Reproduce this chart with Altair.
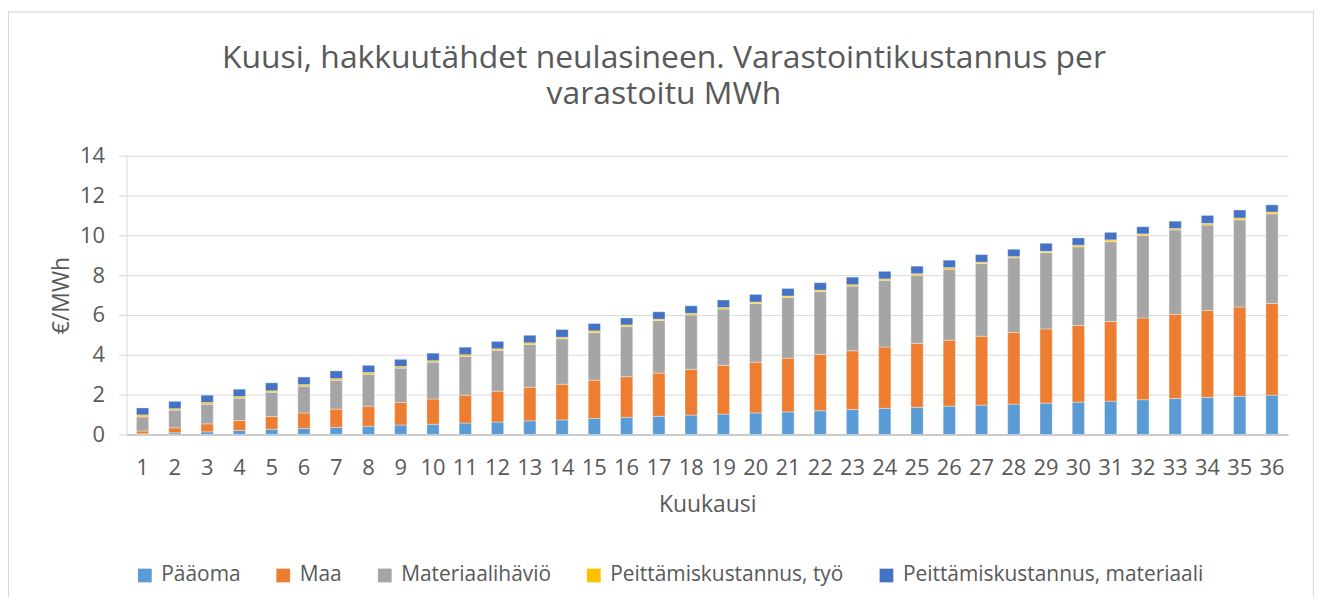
import altair as alt
import pandas as pd

months = list(range(1, 37))
series = ["Pääoma", "Maa", "Materiaalihäviö", "Peittämiskustannus, työ", "Peittämiskustannus, materiaali"]
colors = ["#5B9BD5", "#ED7D31", "#A5A5A5", "#FFC000", "#4472C4"]
title_lines = ["Kuusi, hakkuutähdet neulasineen. Varastointikustannus per", "varastoitu MWh"]

paaoma = [0.03, 0.08, 0.13, 0.20, 0.26, 0.30, 0.36, 0.41, 0.47, 0.51, 0.57, 0.62,
          0.68, 0.73, 0.80, 0.86, 0.91, 0.97, 1.02, 1.08, 1.13, 1.19, 1.25, 1.31,
          1.36, 1.42, 1.47, 1.52, 1.57, 1.62, 1.67, 1.74, 1.80, 1.86, 1.91, 1.97]
maa = [0.14, 0.25, 0.40, 0.50, 0.64, 0.78, 0.91, 1.01, 1.13, 1.27, 1.40, 1.55,
       1.69, 1.79, 1.92, 2.04, 2.17, 2.30, 2.45, 2.55, 2.70, 2.83, 2.95, 3.08,
       3.21, 3.31, 3.46, 3.60, 3.73, 3.85, 4.00, 4.11, 4.23, 4.36, 4.49, 4.61]
materiaalihavio = [0.71, 0.89, 0.99, 1.12, 1.22, 1.34, 1.45, 1.60, 1.73, 1.85, 1.95, 2.05,
                   2.15, 2.28, 2.40, 2.52, 2.64, 2.73, 2.83, 2.95, 3.05, 3.16, 3.25, 3.35,
                   3.43, 3.57, 3.65, 3.75, 3.83, 3.95, 4.01, 4.15, 4.24, 4.30, 4.38, 4.50]
tyo = [0.10, 0.07, 0.08, 0.08, 0.07, 0.08, 0.08, 0.09, 0.08, 0.07, 0.08, 0.08,
       0.08, 0.08, 0.08, 0.08, 0.07, 0.08, 0.07, 0.07, 0.07, 0.07, 0.07, 0.07,
       0.07, 0.08, 0.07, 0.06, 0.07, 0.08, 0.09, 0.07, 0.07, 0.08, 0.09, 0.09]
materiaali = [0.35, 0.37, 0.37, 0.37, 0.40, 0.38, 0.39, 0.36, 0.36, 0.38, 0.38, 0.37,
              0.38, 0.39, 0.37, 0.35, 0.37, 0.38, 0.38, 0.38, 0.38, 0.37, 0.38, 0.38,
              0.38, 0.37, 0.38, 0.37, 0.40, 0.37, 0.38, 0.36, 0.37, 0.40, 0.40, 0.36]

values = [paaoma, maa, materiaalihavio, tyo, materiaali]
rows = []
for si, (name, vals) in enumerate(zip(series, values)):
    for m, v in zip(months, vals):
        rows.append({"Kuukausi": m, "sarja": name, "arvo": v, "jarjestys": si})
df = pd.DataFrame(rows)

FONT = "Open Sans"
GREY = "#595959"

bars = alt.Chart(df).mark_bar(stroke="white", strokeWidth=0.6, strokeOpacity=0.6).encode(
    x=alt.X("Kuukausi:O", title="Kuukausi",
            scale=alt.Scale(paddingInner=0.62, paddingOuter=0.31),
            axis=alt.Axis(labelAngle=0, ticks=False, grid=False, domainColor="#bfbfbf",
                          domainWidth=1.5, labelPadding=23, titlePadding=15,
                          labelFontSize=22, titleFontSize=23)),
    y=alt.Y("arvo:Q", title="€/MWh", stack="zero",
            scale=alt.Scale(domain=[0, 14], nice=False),
            axis=alt.Axis(values=[0, 2, 4, 6, 8, 10, 12, 14], grid=True, gridColor="#d9d9d9",
                          domain=True, domainColor="#d9d9d9", ticks=True, tickSize=8,
                          tickColor="#d9d9d9", labelPadding=14, titlePadding=6,
                          labelFontSize=22, titleFontSize=23)),
    color=alt.Color("sarja:N", scale=alt.Scale(domain=series, range=colors),
                    legend=alt.Legend(title=None, orient="none", legendX=8, legendY=411,
                                      direction="horizontal", symbolType="square",
                                      symbolSize=190, symbolStrokeWidth=0,
                                      labelFontSize=21, labelColor=GREY, labelFont=FONT,
                                      labelLimit=500, columnPadding=32, labelOffset=6)),
    order=alt.Order("jarjestys:Q", sort="ascending"),
)

frame = alt.Chart(pd.DataFrame({"k": [0]})).mark_rect(
    fill=None, stroke="#d9d9d9", strokeWidth=1.2
).encode(
    x=alt.value(-118.5), x2=alt.value(1192.5), y=alt.value(-144.5), y2=alt.value(700)
)

def title_text(line, ypos):
    return alt.Chart(pd.DataFrame({"t": [line]})).mark_text(
        font=FONT, fontSize=32, color=GREY, align="center", baseline="alphabetic"
    ).encode(text="t:N", x=alt.value(540), y=alt.value(ypos))

title1 = title_text(title_lines[0], -88)
title2 = title_text(title_lines[1], -52)

chart = alt.layer(frame, title1, title2, bars).properties(
    width=1167, height=280,
    autosize=alt.AutoSizeParams(type="none"),
    padding={"left": 119, "top": 147, "right": 26, "bottom": 162},
).configure_view(stroke=None).configure_axis(
    labelFont=FONT, titleFont=FONT, labelColor=GREY, titleColor=GREY, titleFontWeight="normal"
)

chart.save("out.html", embed_options={"renderer": "svg", "actions": False})
